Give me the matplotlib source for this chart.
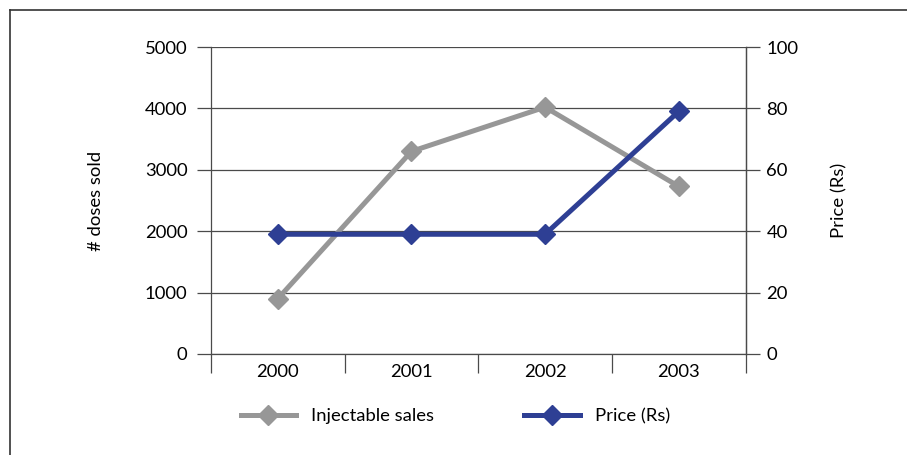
import matplotlib.pyplot as plt
from matplotlib.lines import Line2D

plt.rcParams['font.family'] = ['Lato', 'DejaVu Sans']

years = ['2000', '2001', '2002', '2003']
sales = [900, 3300, 4020, 2730]
price = [39, 39, 39, 79]

gray = '#979797'
blue = '#2e3f94'
axis_col = '#4a4a4a'
fs = 13.3

fig = plt.figure(figsize=(9.07, 4.55), dpi=100)
ax = fig.add_axes([211 / 907, 1 - 354 / 455, (745.5 - 211) / 907, (354 - 47) / 455])
ax2 = ax.twinx()

x = list(range(len(years)))
ax.plot(x, sales, color=gray, lw=3.6, marker='D', markersize=10.5,
        label='Injectable sales', zorder=3)
ax2.plot(x, price, color=blue, lw=3.6, marker='D', markersize=10.5,
         label='Price (Rs)', zorder=3)

ax.set_xlim(-0.5, 3.5)
ax.set_ylim(0, 5000)
ax2.set_ylim(0, 100)
ax.set_yticks(range(0, 5001, 1000))
ax2.set_yticks(range(0, 101, 20))

# category boundaries as major ticks, year labels on minor ticks
ax.set_xticks([-0.5, 0.5, 1.5, 2.5, 3.5])
ax.set_xticklabels([])
ax.set_xticks(x, minor=True)
ax.set_xticklabels(years, minor=True, fontsize=fs)
ax.tick_params(axis='x', which='major', direction='out', length=13.5,
               width=0.9, color=axis_col)
ax.tick_params(axis='x', which='minor', length=0, pad=7)

ax.tick_params(axis='y', direction='out', length=10, width=0.9,
               color=axis_col, labelsize=fs, pad=7)
ax2.tick_params(axis='y', direction='out', length=10, width=0.9,
                color=axis_col, labelsize=fs, pad=5)

ax.grid(axis='y', color=axis_col, lw=0.9)
ax.set_axisbelow(True)
for a in (ax, ax2):
    a.spines['top'].set_visible(False)
    for s in ('left', 'right', 'bottom'):
        a.spines[s].set_color(axis_col)
        a.spines[s].set_linewidth(0.9)
ax2.spines['left'].set_visible(False)
ax2.spines['bottom'].set_visible(False)

ax.set_ylabel('# doses sold', fontsize=fs)
ax2.set_ylabel('Price (Rs)', fontsize=fs)
ax.yaxis.set_label_coords(-0.2, 0.5)
ax2.yaxis.set_label_coords(1.16, 0.5)

h1, l1 = ax.get_legend_handles_labels()
h2, l2 = ax2.get_legend_handles_labels()
fig.legend(h1 + h2, l1 + l2, loc='center', bbox_to_anchor=(0.502, 1 - 416 / 455),
           ncol=2, frameon=False, fontsize=fs, handlelength=3.0,
           columnspacing=4.9, handletextpad=0.8)

# outer frame (top and left edges)
fig.add_artist(Line2D([10 / 907, 1], [1 - 10 / 455] * 2, color='#333333', lw=1.2))
fig.add_artist(Line2D([10 / 907] * 2, [0, 1 - 10 / 455], color='#333333', lw=1.2))

fig.savefig('out.png', dpi=100)
